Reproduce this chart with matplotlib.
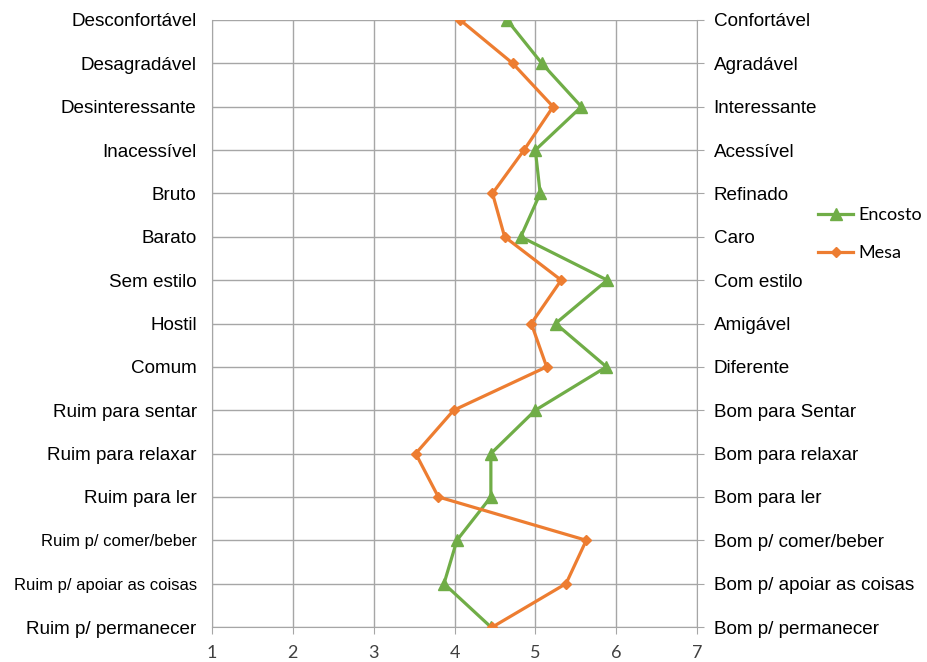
import matplotlib.pyplot as plt

# semantic differential: left (negative) and right (positive) poles
left_labels = ["Desconfortável", "Desagradável", "Desinteressante", "Inacessível",
               "Bruto", "Barato", "Sem estilo", "Hostil", "Comum",
               "Ruim para sentar", "Ruim para relaxar", "Ruim para ler",
               "Ruim p/ comer/beber", "Ruim p/ apoiar as coisas", "Ruim p/ permanecer"]
right_labels = ["Confortável", "Agradável", "Interessante", "Acessível",
                "Refinado", "Caro", "Com estilo", "Amigável", "Diferente",
                "Bom para Sentar", "Bom para relaxar", "Bom para ler",
                "Bom p/ comer/beber", "Bom p/ apoiar as coisas", "Bom p/ permanecer"]

encosto = [4.65, 5.08, 5.57, 5.00, 5.06, 4.82, 5.89, 5.25, 5.88,
           5.00, 4.45, 4.45, 4.03, 3.87, 4.45]
mesa = [4.07, 4.72, 5.22, 4.86, 4.47, 4.62, 5.32, 4.95, 5.14,
        3.99, 3.52, 3.80, 5.63, 5.38, 4.47]

x_ticks = [1, 2, 3, 4, 5, 6, 7]

GREEN = "#70AD47"
ORANGE = "#ED7D31"
GRID = "#A6A6A6"

fig = plt.figure(figsize=(9.27, 6.62), dpi=100)
ax = fig.add_axes([212 / 927, 35 / 662, (697 - 212) / 927, (627 - 20) / 662])

rows = list(range(len(left_labels)))

ax.plot(encosto, rows, color=GREEN, lw=2.3, marker="^", ms=8, label="Encosto", zorder=3)
ax.plot(mesa, rows, color=ORANGE, lw=2.3, marker="D", ms=5.5, label="Mesa", zorder=3)

ax.set_xlim(1, 7)
ax.set_ylim(len(rows) - 1, 0)
ax.set_xticks(x_ticks)
ax.set_xticklabels([str(t) for t in x_ticks], fontsize=13, family="Lato", color="#404040")
ax.set_yticks(rows)

ylab_font = {"family": "Liberation Sans", "color": "black"}
ax.set_yticklabels(left_labels, fontsize=13.6, **ylab_font)
for i, t in enumerate(ax.get_yticklabels()):
    if i in (12, 13):
        t.set_fontsize(12)

ax.grid(True, color=GRID, lw=1)
ax.set_axisbelow(True)
ax.spines["top"].set_visible(False)
for s in ("left", "right", "bottom"):
    ax.spines[s].set_color(GRID)
ax.tick_params(axis="y", length=0, pad=11)
ax.tick_params(axis="x", direction="out", length=5, color=GRID, pad=8)

ax2 = ax.twinx()
ax2.set_ylim(ax.get_ylim())
ax2.set_yticks(rows)
ax2.set_yticklabels(right_labels, fontsize=13.6, **ylab_font)
ax2.tick_params(axis="y", direction="out", length=5, color=GRID, pad=7)
for s in ax2.spines.values():
    s.set_visible(False)

fig.legend(loc="upper left", bbox_to_anchor=(802 / 927, 1 - 191 / 662),
           frameon=False, prop={"family": "Lato", "size": 13},
           handlelength=1.95, labelspacing=1.2, handletextpad=0.3)

fig.savefig("out.png")
